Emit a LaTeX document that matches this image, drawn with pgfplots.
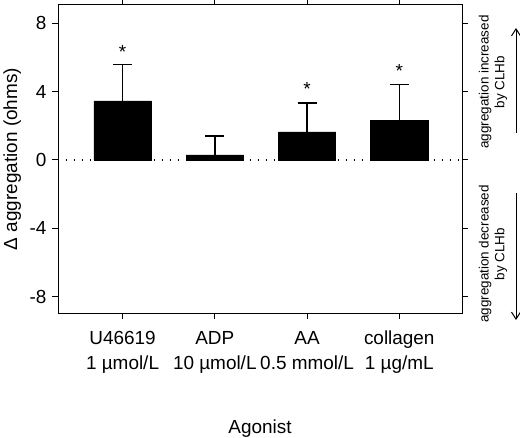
\documentclass[border=0pt]{standalone}
\usepackage{pgfplots}
\pgfplotsset{compat=1.18}
\usepackage{fontspec}
\setmainfont{Liberation Sans}
\usetikzlibrary{arrows.meta}

\begin{document}
\begin{tikzpicture}
\useasboundingbox (-58bp,-125bp) rectangle (462bp,313bp);
\begin{axis}[
  at={(0,0)}, anchor=south west,
  scale only axis, width=404bp, height=308bp,
  xmin=-0.7, xmax=3.68, ymin=-8.95, ymax=9.06,
  axis line style={line width=1pt},
  tick style={line width=1pt, black},
  tick align=outside, major tick length=6bp,
  tick pos=both,
  xtick={0,1,2,3},
  xticklabels={{U46619\\1 µmol/L},{ADP\\10 µmol/L},{AA\\0.5 mmol/L},{collagen\\1 µg/mL}},
  xticklabel pos=lower,
  xticklabel style={align=center, font=\fontsize{19}{25}\selectfont,
    anchor=north, inner sep=0pt, yshift=-12bp},
  ytick={-8,-4,0,4,8},
  yticklabel pos=left,
  yticklabel style={font=\fontsize{19}{23}\selectfont, xshift=-2bp},
  /pgf/number format/assume math mode=true,
  xlabel={Agonist},
  ylabel={Δ aggregation (ohms)},
  label style={font=\fontsize{19}{23}\selectfont},
  xlabel style={at={(axis description cs:0.5,0)}, anchor=base, yshift=-120bp},
  ylabel style={at={(axis description cs:-0.101,0.5)}, anchor=base, rotate=0},
  clip=false,
]
% dotted zero line
\addplot[black, line width=1.2pt, dash pattern=on 1.2bp off 6.8bp]
  coordinates {(-0.7,0) (3.68,0)};
% bars with upper error bars
\addplot[ybar, bar width=0.62, fill=black, draw=black,
  error bars/.cd, y dir=plus, y explicit,
  error bar style={line width=1.4pt, black},
  error mark options={rotate=90, line width=1.4pt, black, mark size=9.5bp}]
  table[x=x, y=y, y error=e] {
  x  y     e
  0  3.45  2.12
  1  0.3   1.1
  2  1.64  1.68
  3  2.3   2.1
  };
% significance asterisks
\addplot[draw=none, mark=none,
  nodes near coords={*},
  every node near coord/.append style={anchor=north, inner sep=0pt,
    font=\fontsize{19}{19}\selectfont}]
  coordinates {(0,6.7) (2,4.52) (3,5.58)};
\end{axis}
\node[rotate=90, align=center, font=\fontsize{13.5}{16}\selectfont]
  at (435bp,231bp) {aggregation increased\\by CLHb};
\node[rotate=90, align=center, font=\fontsize{13.5}{16}\selectfont]
  at (435bp,59bp) {aggregation decreased\\by CLHb};
\draw[line width=1pt, -{Straight Barb[length=7bp, width=9bp]}] (458bp,180bp) -- (458bp,285bp);
\draw[line width=1pt, -{Straight Barb[length=7bp, width=9bp]}] (458bp,120bp) -- (458bp,-7bp);
\end{tikzpicture}
\end{document}
